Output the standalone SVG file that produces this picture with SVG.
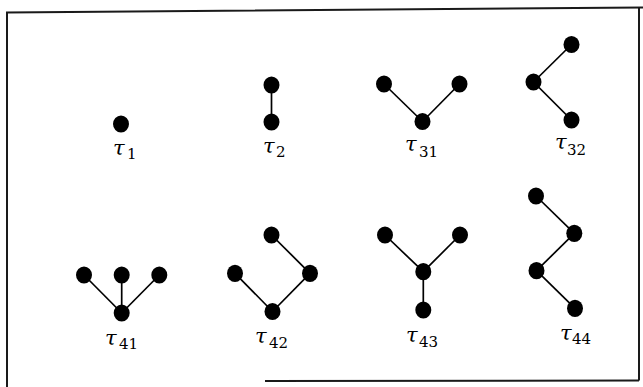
<svg xmlns="http://www.w3.org/2000/svg" width="643" height="387" viewBox="0 0 643 387">
  <style>
    .frame { fill: none; stroke: #1a1a1a; stroke-width: 2; }
    .edge { stroke: #000; stroke-width: 1.7; fill: none; }
    .node { fill: #000; }
    .tau { font-family: "DejaVu Serif", "Liberation Serif", serif; font-style: italic; font-size: 21px; fill: #000; }
    .sub { font-family: "DejaVu Serif", "Liberation Serif", serif; font-style: normal; font-size: 15px; }
  </style>
  <defs>
    <ellipse id="dot" cx="0" cy="0" rx="8" ry="8.6"/>
  </defs>
  <rect width="643" height="387" fill="#fff"/>

  <!-- frame -->
  <g id="frame">
    <path class="frame" d="M7,387 L7,12.5 L643,7.5"/>
    <path class="frame" d="M639,8 L639,380.5"/>
    <path class="frame" d="M265,381 L639,380.5"/>
  </g>

  <!-- connectors -->
  <g id="edges">
    <line class="edge" x1="271.5" y1="85" x2="271.5" y2="122"/>
    <line class="edge" x1="384" y1="84" x2="422.5" y2="121.5"/>
    <line class="edge" x1="459.5" y1="84" x2="422.5" y2="121.5"/>
    <line class="edge" x1="571.5" y1="44.5" x2="533.5" y2="82"/>
    <line class="edge" x1="533.5" y1="82" x2="571.5" y2="120"/>
    <line class="edge" x1="84" y1="275" x2="121.7" y2="313"/>
    <line class="edge" x1="121.7" y1="275" x2="121.7" y2="313"/>
    <line class="edge" x1="159.3" y1="275" x2="121.7" y2="313"/>
    <line class="edge" x1="271.5" y1="235" x2="310" y2="273.3"/>
    <line class="edge" x1="310" y1="273.3" x2="272.5" y2="311.5"/>
    <line class="edge" x1="235" y1="273.3" x2="272.5" y2="311.5"/>
    <line class="edge" x1="385" y1="235" x2="423.3" y2="271.7"/>
    <line class="edge" x1="460" y1="235" x2="423.3" y2="271.7"/>
    <line class="edge" x1="423.3" y1="271.7" x2="423.3" y2="310"/>
    <line class="edge" x1="536" y1="196" x2="574.3" y2="233.3"/>
    <line class="edge" x1="574.3" y1="233.3" x2="536.5" y2="270.7"/>
    <line class="edge" x1="536.5" y1="270.7" x2="575" y2="308.3"/>
  </g>

  <!-- tau_1 -->
  <g id="tau1">
    <use href="#dot" x="121" y="124"/>
    <text class="tau" x="113" y="155">τ<tspan class="sub" x="127" y="158.5">1</tspan></text>
  </g>

  <!-- tau_2 -->
  <g id="tau2">
    <use href="#dot" x="271.5" y="85"/>
    <use href="#dot" x="271.5" y="122"/>
    <text class="tau" x="263" y="152.5">τ<tspan class="sub" x="276" y="157">2</tspan></text>
  </g>

  <!-- tau_31 -->
  <g id="tau31">
    <use href="#dot" x="384" y="84"/>
    <use href="#dot" x="422.5" y="121.5"/>
    <use href="#dot" x="459.5" y="84"/>
    <text class="tau" x="405" y="150.5">τ<tspan class="sub" x="419" y="157">31</tspan></text>
  </g>

  <!-- tau_32 -->
  <g id="tau32">
    <use href="#dot" x="571.5" y="44.5"/>
    <use href="#dot" x="533.5" y="82"/>
    <use href="#dot" x="571.5" y="120"/>
    <text class="tau" x="555" y="148.5">τ<tspan class="sub" x="567" y="155">32</tspan></text>
  </g>

  <!-- tau_41 -->
  <g id="tau41">
    <use href="#dot" x="84" y="275"/>
    <use href="#dot" x="121.7" y="275"/>
    <use href="#dot" x="159.3" y="275"/>
    <use href="#dot" x="121.7" y="313"/>
    <text class="tau" x="105" y="344.5">τ<tspan class="sub" x="119" y="348.5">41</tspan></text>
  </g>

  <!-- tau_42 -->
  <g id="tau42">
    <use href="#dot" x="271.5" y="235"/>
    <use href="#dot" x="310" y="273.3"/>
    <use href="#dot" x="235" y="273.3"/>
    <use href="#dot" x="272.5" y="311.5"/>
    <text class="tau" x="255" y="343">τ<tspan class="sub" x="269" y="347.5">42</tspan></text>
  </g>

  <!-- tau_43 -->
  <g id="tau43">
    <use href="#dot" x="385" y="235"/>
    <use href="#dot" x="460" y="235"/>
    <use href="#dot" x="423.3" y="271.7"/>
    <use href="#dot" x="423.3" y="310"/>
    <text class="tau" x="406" y="342">τ<tspan class="sub" x="419" y="347">43</tspan></text>
  </g>

  <!-- tau_44 -->
  <g id="tau44">
    <use href="#dot" x="536" y="196"/>
    <use href="#dot" x="574.3" y="233.3"/>
    <use href="#dot" x="536.5" y="270.7"/>
    <use href="#dot" x="575" y="308.3"/>
    <text class="tau" x="560" y="340">τ<tspan class="sub" x="572" y="343.5">44</tspan></text>
  </g>
</svg>
